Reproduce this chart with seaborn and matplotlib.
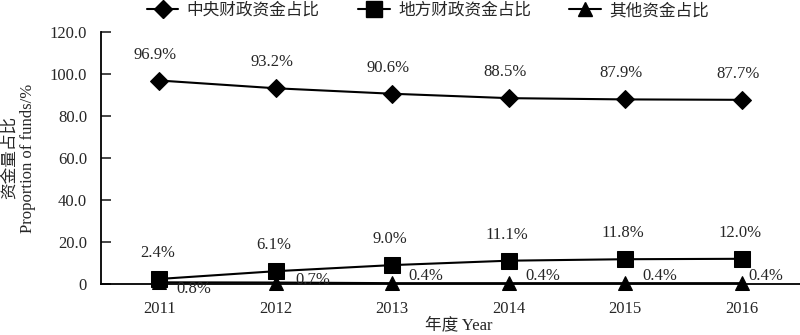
import matplotlib
matplotlib.use("Agg")
import matplotlib.pyplot as plt
from matplotlib.lines import Line2D
import pandas as pd
import seaborn as sns

# Data: share of funding sources by year (%)
years = ["2011", "2012", "2013", "2014", "2015", "2016"]
central_share = [96.9, 93.2, 90.6, 88.5, 87.9, 87.7]
local_share = [2.4, 6.1, 9.0, 11.1, 11.8, 12.0]
other_share = [0.8, 0.7, 0.4, 0.4, 0.4, 0.4]
series_names = ["中央财政资金占比", "地方财政资金占比", "其他资金占比"]
y_ticks = [0, 20, 40, 60, 80, 100, 120]
y_tick_labels = ["0", "20.0", "40.0", "60.0", "80.0", "100.0", "120.0"]

sns.set_theme(style="white")
plt.rcParams["font.family"] = ["Liberation Serif", "Noto Sans CJK SC"]
plt.rcParams["axes.unicode_minus"] = False

W, H = 800, 335
fig = plt.figure(figsize=(W / 100, H / 100), dpi=100)
ax = fig.add_axes([101 / W, 1 - 284 / H, 699 / W, 252 / H])

df = pd.DataFrame({
    "pos": list(range(len(years))) * 3,
    "value": central_share + local_share + other_share,
    "series": [s for s in series_names for _ in years],
})

styles = {
    series_names[0]: dict(marker="D", markersize=9),
    series_names[1]: dict(marker="s", markersize=11),
    series_names[2]: dict(marker="^", markersize=10),
}

for name in series_names:
    sub = df[df["series"] == name]
    sns.lineplot(data=sub, x="pos", y="value", ax=ax, color="black",
                 linewidth=1.5, markeredgecolor="black", markerfacecolor="black",
                 legend=False, clip_on=False, zorder=3, **styles[name])

fs = 12
# Value labels
for i, v in enumerate(central_share):
    ax.annotate(f"{v:.1f}%", (i, v), xytext=(-4, 26), textcoords="offset pixels",
                ha="center", va="center", fontsize=fs)
for i, v in enumerate(local_share):
    ax.annotate(f"{v:.1f}%", (i, v), xytext=(-2, 26), textcoords="offset pixels",
                ha="center", va="center", fontsize=fs)
other_dx = [35, 37, 34, 34, 35, 24]
other_dy = [-7, 3, 7, 7, 7, 7]
for i, v in enumerate(other_share):
    ax.annotate(f"{v:.1f}%", (i, v), xytext=(other_dx[i], other_dy[i]),
                textcoords="offset pixels", ha="center", va="center", fontsize=fs)

ax.set_xlim(-0.5, len(years) - 0.5)
ax.set_ylim(0, 120)
ax.set_xticks(range(len(years)))
ax.set_xticklabels(years, fontsize=fs)
ax.set_yticks(y_ticks)
ax.set_yticklabels(y_tick_labels, fontsize=fs)
ax.tick_params(axis="x", length=0, pad=12)
ax.tick_params(axis="y", direction="in", length=7, width=1.2, pad=10, left=True)

for side in ("top", "right"):
    ax.spines[side].set_visible(False)
for side in ("left", "bottom"):
    ax.spines[side].set_color("black")
    ax.spines[side].set_linewidth(1.3)

ax.set_xlabel("")
ax.set_ylabel("")
fig.text(459 / W, 1 - 325 / H, "年度 Year", ha="center", va="center", fontsize=fs)
fig.text(10 / W, 1 - 157 / H, "资金量占比", rotation=90, ha="center", va="center", fontsize=fs)
fig.text(28 / W, 1 - 158 / H, "Proportion of funds/%", rotation=90,
         ha="center", va="center", fontsize=fs)

handles = [Line2D([0], [0], color="black", linewidth=1.5,
                  markerfacecolor="black", markeredgecolor="black", **styles[n])
           for n in series_names]
fig.legend(handles, series_names, loc="center", bbox_to_anchor=(428 / W, 1 - 11 / H),
           ncol=3, frameon=False, prop={"size": 12, "weight": "medium"},
           handlelength=1.9, handletextpad=0.5, columnspacing=2.3)

fig.savefig("out.png", dpi=100)
